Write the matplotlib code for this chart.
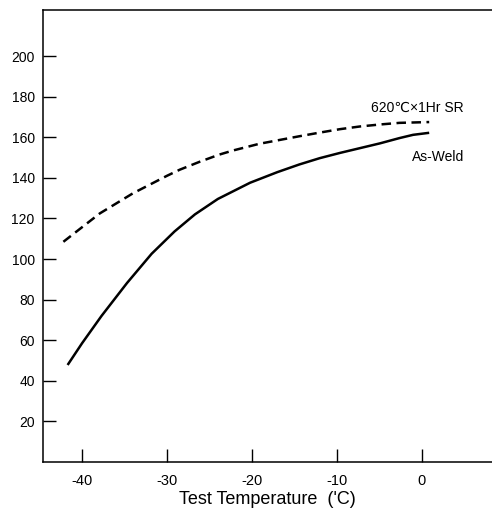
import numpy as np
import matplotlib
matplotlib.use('Agg')
import matplotlib.pyplot as plt

plt.rcParams['font.family'] = ['Liberation Sans', 'DejaVu Sans']

# As-Weld curve (solid)
aw_temp = [-41.7, -40.0, -37.7, -34.7, -31.8, -29.1, -26.7, -24.0, -20.2, -17.0,
           -14.4, -12.0, -9.6, -7.3, -4.9, -2.6, -1.0, 0.9]
aw_val = [47.8, 58.5, 72.0, 88.2, 102.6, 113.6, 122.0, 129.6, 137.6, 142.8,
          146.6, 149.7, 152.3, 154.6, 157.0, 159.6, 161.2, 162.2]

# 620C x 1Hr SR curve (dashed)
sr_temp = [-42.2, -39.9, -37.9, -34.0, -30.0, -28.5, -26.1, -23.8, -22.2, -19.1,
           -14.4, -12.0, -9.6, -7.3, -4.9, -2.6, 0.9]
sr_val = [108.5, 116.0, 122.5, 132.4, 141.0, 144.0, 148.0, 151.5, 153.5, 156.8,
          160.5, 162.3, 164.0, 165.3, 166.3, 167.1, 167.5]

xticks = [-40, -30, -20, -10, 0]
xtick_labels = ['-40', '-30', '-20', '-10', '0']
yticks = [20, 40, 60, 80, 100, 120, 140, 160, 180, 200]

fig = plt.figure(figsize=(4.92, 5.14), dpi=100)
ax = fig.add_axes([0.0874, 0.1012, 0.9126, 0.8793])

ax.plot(aw_temp, aw_val, color='black', lw=1.8, solid_capstyle='butt',
        solid_joinstyle='round')
ax.plot(sr_temp, sr_val, color='black', lw=1.8, dashes=(3.8, 2.2),
        dash_joinstyle='round')

ax.set_xlim(-44.6, 8.3)
ax.set_ylim(0, 222.7)

ax.spines['right'].set_visible(False)
for s in ['left', 'bottom', 'top']:
    ax.spines[s].set_linewidth(1.1)

ax.set_xticks(xticks)
ax.set_xticklabels(xtick_labels)
ax.set_yticks(yticks)
ax.tick_params(axis='x', direction='in', length=9.5, width=1.0, pad=9, labelsize=10.5)
ax.tick_params(axis='y', direction='in', length=9.5, width=1.0, pad=6, labelsize=10)

ax.set_xlabel("Test Temperature  ('C)", fontsize=13, labelpad=2)

ax.text(-5.9, 174.5, '620℃×1Hr SR', fontsize=10, ha='left', va='center')
ax.text(-1.1, 150.5, 'As-Weld', fontsize=10, ha='left', va='center')

fig.savefig('out.png', dpi=100)
